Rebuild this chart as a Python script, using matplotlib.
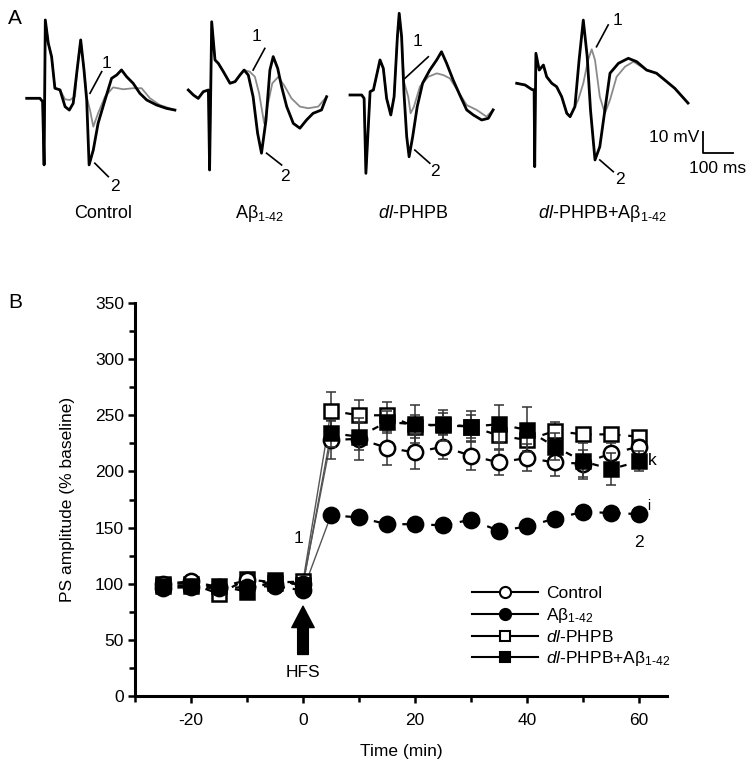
import numpy as np
import matplotlib
matplotlib.use('Agg')
import matplotlib.pyplot as plt
from matplotlib.lines import Line2D

plt.rcParams['font.family'] = ['Liberation Sans', 'DejaVu Sans']
plt.rcParams['mathtext.fontset'] = 'custom'
plt.rcParams['mathtext.rm'] = 'Liberation Sans'
plt.rcParams['mathtext.it'] = 'Liberation Sans:italic'
plt.rcParams['axes.unicode_minus'] = False

AB = r'Aβ$_{1\text{-}42}$'
DL = r'$\mathit{dl}$-PHPB'
GROUPS = ['Control', AB, DL, DL + '+' + AB]

# ---- panel A: field potential traces (ms, mV), black = after HFS (2), grey = baseline (1)
ctrl_t_black = [0, 44, 53, 58, 62, 72, 83, 94, 111, 128, 142, 155, 168, 180, 191, 200, 208, 222, 238, 261,
                283, 300, 316, 333, 355, 377, 400, 433, 466, 494]
ctrl_v_black = [0, 0, -1.6, -31.7, 37.3, 26.2, 19.8, 4.8, 4.0, -4.0, -5.6, -2.4, 13.5, 27.8, 13.5, -0.8, -31.7,
                -24.6, -11.9, -0.8, 9.5, 11.1, 13.5, 10.3, 7.1, 2.4, -0.8, -3.2, -4.8, -5.6]
ctrl_t_grey = [0, 44, 53, 58, 62, 72, 83, 94, 111, 128, 144, 161, 168, 180, 191, 200, 211, 222, 238, 261, 288,
               322, 355, 383, 411, 444, 494]
ctrl_v_grey = [0, 0, -1.6, -31.7, 37.3, 26.2, 19.8, 4.8, 4.0, -0.5, -0.8, 0.8, 13.5, 27.8, 13.5, 0.5, -5.6,
               -13.5, -7.1, 0.8, 5.2, 4.3, 4.8, 4.8, 0, -3.2, -5.6]

ab_t_black = [0, 17, 33, 50, 67, 71, 78, 89, 100, 117, 139, 156, 172, 186, 200, 216, 231, 244, 259, 272, 283,
              298, 311, 328, 350, 372, 394, 416, 444, 461]
ab_v_black = [0, -2.4, -4.0, -0.8, 0, -38.1, 32.5, 14.3, 12.7, 8.7, 3.2, 4.0, 7.1, 9.5, 7.1, -3.2, -20.6, -30.1,
              -14.3, 9.5, 15.9, 10.3, 1.6, -7.9, -15.9, -18.2, -14.3, -11.1, -9.5, -3.2]
ab_t_grey = [0, 17, 33, 50, 67, 71, 78, 89, 100, 117, 139, 156, 172, 186, 205, 222, 236, 253, 266, 280, 300,
             322, 344, 372, 400, 433, 461]
ab_v_grey = [0, -2.4, -4.0, -0.8, 0, -38.1, 32.5, 14.3, 12.7, 8.7, 3.2, 4.0, 7.1, 9.5, 8.7, 6.3, -1.6, -15.9,
             -6.3, 3.2, 6.3, 1.6, -4.0, -7.9, -8.7, -7.9, -3.2]

dl_t_black = [0, 39, 47, 53, 67, 78, 89, 100, 111, 122, 136, 147, 158, 164, 172, 180, 189, 197, 209, 224, 242,
              266, 289, 305, 322, 344, 366, 389, 411, 439, 461, 477]
dl_v_black = [0, 0, -1.6, -37.3, 1.6, 2.4, 9.5, 16.7, 12.7, -1.6, -9.5, -0.8, 27.8, 38.9, 27.8, 0.8, -19.8,
              -29.4, -19.8, -5.6, 5.6, 11.9, 16.7, 20.6, 15.1, 7.1, 0, -7.1, -9.5, -11.9, -11.1, -7.1]
dl_t_grey = [0, 39, 47, 53, 67, 78, 89, 100, 111, 122, 136, 147, 158, 164, 172, 180, 194, 202, 213, 233, 261,
             289, 311, 333, 361, 389, 422, 455, 477]
dl_v_grey = [0, 0, -1.6, -37.3, 1.6, 2.4, 9.5, 16.7, 12.7, -1.6, -9.5, -0.8, 27.8, 38.9, 27.8, 6.3, -0.8, -8.7,
             -5.6, 4.0, 8.7, 10.3, 9.5, 7.9, 1.6, -4.8, -7.1, -10.3, -7.1]

dlab_t_black = [0, 28, 50, 58, 60, 64, 75, 89, 100, 117, 133, 150, 167, 178, 194, 208, 222, 235, 246, 261, 277,
                294, 311, 339, 372, 400, 433, 466, 500, 527, 571]
dlab_v_black = [0, -0.8, -2.9, -3.2, -39.7, 14.3, 6.3, 8.7, 3.1, 0, -1.6, -6.4, -14.3, -15.9, -11.1, 11.1, 30.1,
                12.7, -12.7, -36.5, -30.2, -12.7, 4.8, 9.5, 11.9, 10.3, 6.3, 4.8, 0.8, -2.4, -9.4]
dlab_t_grey = [0, 28, 50, 58, 60, 64, 75, 89, 100, 117, 133, 150, 167, 178, 194, 205, 222, 238, 250, 261, 277,
               294, 311, 333, 361, 389, 433, 466, 500, 527, 571]
dlab_v_grey = [0, -0.8, -2.9, -3.2, -39.7, 14.3, 6.3, 8.7, 3.1, 0, -1.6, -6.4, -14.3, -15.9, -11.1, -7.9, 0,
               11.1, 16.2, 11.1, -6.4, -14.3, -7.9, 3.1, 7.9, 10.3, 6.3, 4.8, 0.8, -2.4, -9.4]

# ---- panel B: PS amplitude (% baseline)
time_min = [-25, -20, -15, -10, -5, 0, 5, 10, 15, 20, 25, 30, 35, 40, 45, 50, 55, 60]
ctrl_mean = [100, 102, 97, 103, 100, 100, 228, 229, 221, 217, 222, 214, 208, 212, 208, 207, 216, 222]
ctrl_sem = [3, 3, 3, 3, 3, 3, 17, 19, 15, 15, 11, 13, 11, 12, 12, 12, 9, 6]
ab_mean = [96, 97, 96, 97, 98, 94, 161, 159, 153, 153, 152, 157, 147, 151, 158, 164, 163, 162]
ab_sem = [3, 3, 3, 3, 3, 3, 5, 5, 5, 5, 5, 5, 5, 5, 5, 5, 5, 5]
dl_mean = [100, 100, 91, 104, 101, 102, 254, 250, 250, 240, 242, 240, 232, 228, 236, 233, 233, 231]
dl_sem = [3, 3, 3, 3, 3, 3, 17, 14, 12, 10, 10, 10, 12, 10, 8, 6, 6, 5]
dlab_mean = [98, 98, 98, 93, 103, 99, 234, 231, 244, 242, 241, 240, 242, 237, 222, 209, 202, 209]
dlab_sem = [3, 3, 3, 3, 3, 3, 12, 12, 10, 17, 14, 14, 17, 20, 12, 16, 14, 9]

W, H = 746, 768
MS_PER_PX = 100 / 30
MV_PER_PX = 10 / 21

fig = plt.figure(figsize=(W / 100, H / 100), dpi=100)


def trace_axes(x0, y0, w=240, h=210):
    # axes whose data origin (0 ms, 0 mV) sits at pixel (x0, y0)
    ax = fig.add_axes([x0 / W, (H - y0 - h / 2) / H, w / W, h / H])
    ax.set_xlim(0, w * MS_PER_PX)
    ax.set_ylim(-h / 2 * MV_PER_PX, h / 2 * MV_PER_PX)
    ax.axis('off')
    return ax


traces = [
    ((26.7, 98.3), ctrl_t_black, ctrl_v_black, ctrl_t_grey, ctrl_v_grey,
     (267, 16.7), (250, 12.7), (211, 2.4), (294, -42.1), (227, -30.9), (272, -37.3)),
    ((188.3, 90), ab_t_black, ab_v_black, ab_t_grey, ab_v_grey,
     (228, 25.4), (255, 19.8), (216, 9.5), (322, -41.3), (261, -30.1), (311, -35.7)),
    ((350, 95), dl_t_black, dl_v_black, dl_t_grey, dl_v_grey,
     (224, 25.4), (261, 18.2), (183, 7.9), (283, -36.5), (216, -26.2), (266, -32.5)),
    ((516.7, 83.3), dlab_t_black, dlab_v_black, dlab_t_grey, dlab_v_grey,
     (335, 30.1), (305, 27.8), (266, 17.4), (344, -46), (277, -36.5), (322, -42.1)),
]
trace_axs = []
for (org, tb, vb, tg, vg, p1, a1, b1, p2, a2, b2) in traces:
    ax = trace_axes(*org)
    ax.plot(tg, vg, color='#8a8a8a', lw=1.3, clip_on=False)
    ax.plot(tb, vb, color='black', lw=2.0, clip_on=False)
    ax.plot([a1[0], b1[0]], [a1[1], b1[1]], color='black', lw=1.2, clip_on=False)
    ax.plot([a2[0], b2[0]], [a2[1], b2[1]], color='black', lw=1.2, clip_on=False)
    ax.text(p1[0], p1[1], '1', fontsize=12.5, ha='center', va='center')
    ax.text(p2[0], p2[1], '2', fontsize=12.5, ha='center', va='center')
    trace_axs.append(ax)

# scale bar (10 mV, 100 ms)
sax = trace_axs[3]
sax.plot([620, 620, 720], [-23.2, -33.2, -33.2], color='black', lw=1.3, clip_on=False)
sax.text(610, -25.8, '10 mV', fontsize=12.5, ha='right', va='center')
sax.text(671, -40.5, '100 ms', fontsize=12.5, ha='center', va='center')

for x, lab in zip([103, 260, 413, 602], GROUPS):
    fig.text(x / W, 1 - 213 / H, lab, fontsize=13, ha='center', va='center')

fig.text(8 / W, 1 - 18 / H, 'A', fontsize=15, ha='left', va='center')
fig.text(8 / W, 1 - 303 / H, 'B', fontsize=15, ha='left', va='center')

# ---- panel B
ax = fig.add_axes([135 / W, (H - 696) / H, (667 - 135) / W, (696 - 303) / H])
t = np.array(time_min)
pre = t <= 0
post = t >= 5
series = [
    (ctrl_mean, ctrl_sem, 'o', 'white', 11, 4),
    (ab_mean, ab_sem, 'o', 'black', 11, 6),
    (dl_mean, dl_sem, 's', 'white', 10, 3),
    (dlab_mean, dlab_sem, 's', 'black', 10, 5),
]
for mean, sem, mk, fc, ms, z in series:
    m = np.array(mean)
    ax.errorbar(t, m, yerr=sem, fmt='none', ecolor='#333333', elinewidth=1.1, capsize=3.5,
                capthick=1.1, zorder=z - 0.5)
    ax.plot(t[pre], m[pre], color='black', lw=1.6, ls=(0, (3, 3.5)), zorder=1)
    ax.plot(t[post], m[post], color='black', lw=1.6, ls=(0, (3, 3.5)), zorder=1)
    ax.plot(t[5:7], m[5:7], color='#555555', lw=1.0, zorder=1)
    ax.plot(t, m, ls='none', marker=mk, ms=ms, mfc=fc, mec='black', mew=1.8, zorder=z)

ax.set_xlim(-30, 65)
ax.set_ylim(0, 350)
ax.set_xticks([-20, 0, 20, 40, 60])
ax.set_xticks([-30, -10, 10, 30, 50], minor=True)
ax.set_yticks(np.arange(0, 351, 50))
ax.set_yticks(np.arange(25, 350, 50), minor=True)
for s in ['top', 'right']:
    ax.spines[s].set_visible(False)
for s in ['left', 'bottom']:
    ax.spines[s].set_linewidth(2.2)
ax.tick_params(which='major', length=5, width=1.8, labelsize=12.5)
ax.tick_params(axis='y', which='major', pad=3)
ax.tick_params(axis='x', which='major', pad=7)
ax.tick_params(which='minor', length=4, width=1.8)
ax.set_xlabel('Time (min)', fontsize=12.5, labelpad=12)
ax.set_ylabel('PS amplitude (% baseline)', fontsize=12.5, labelpad=14)

# HFS arrow and annotations
ax.annotate('', xy=(0, 80), xytext=(0, 37),
            arrowprops=dict(arrowstyle='simple,head_length=1.1,head_width=1.15,tail_width=0.55',
                            mutation_scale=14, color='black', shrinkA=0, shrinkB=0))
ax.text(0, 20.5, 'HFS', fontsize=12.5, ha='center', va='center')
ax.text(-0.8, 140, '1', fontsize=12.5, ha='center', va='center')
ax.text(59.9, 137, '2', fontsize=12.5, ha='center', va='center')
ax.text(61.8, 169, 'i', fontsize=10, ha='center', va='center')
ax.text(62.3, 210, 'k', fontsize=12.5, ha='center', va='center')

handles = [Line2D([], [], color='black', lw=1.5, marker=mk, ms=ms - 3, mfc=fc, mec='black', mew=1.5)
           for _, _, mk, fc, ms, _ in series]
ax.legend(handles, GROUPS, loc='upper left', bbox_to_anchor=(0.61, 0.31), frameon=False,
          fontsize=12.5, handlelength=3.8, handletextpad=0.5, labelspacing=0.25, borderpad=0.2)

fig.savefig('out.png', dpi=100)
